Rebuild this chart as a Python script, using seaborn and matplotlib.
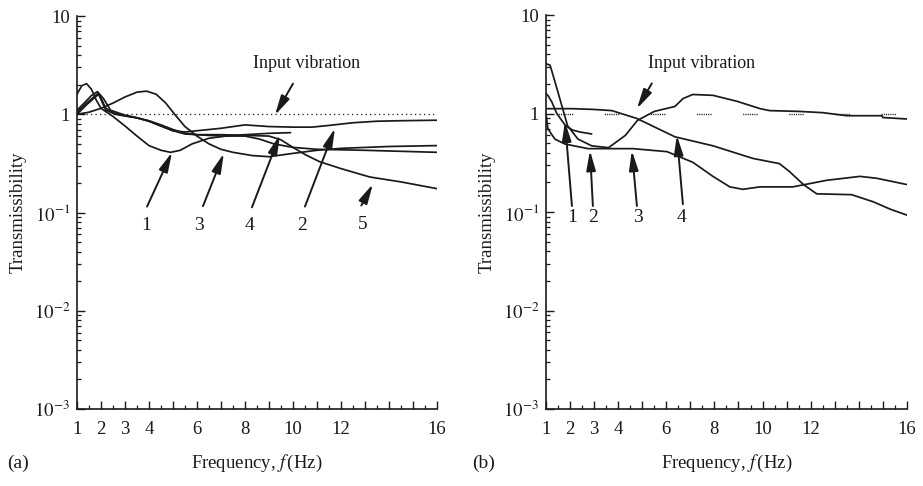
import matplotlib
matplotlib.use("Agg")
import numpy as np
import pandas as pd
import seaborn as sns
import matplotlib.pyplot as plt
from matplotlib.ticker import FixedLocator, FixedFormatter, LogLocator, NullFormatter, MultipleLocator

# ---------------- data ----------------
x_ticks_labelled = [1, 2, 3, 4, 6, 8, 10, 12, 16]
y_tick_values = [1e-3, 1e-2, 1e-1, 1, 10]
y_tick_labels = ["$10^{-3}$", "$10^{-2}$", "$10^{-1}$", "1", "10"]
input_level = 1.0
freq_span = [1, 16]

# panel (a)
a1_f = [1.0, 1.2, 1.4, 1.6, 1.8, 2.0, 2.5, 3.0, 3.5, 4.0, 4.5, 4.9, 5.3, 5.8, 6.5, 7.2, 8.0, 8.6, 9.2, 10.0, 11.0, 13.0, 16.0]
a1_T = [1.6, 1.95, 2.05, 1.8, 1.4, 1.15, 0.95, 0.76, 0.6, 0.48, 0.43, 0.41, 0.43, 0.5, 0.57, 0.6, 0.6, 0.56, 0.5, 0.46, 0.44, 0.43, 0.41]
a2_f = [1.0, 1.4, 1.9, 2.2, 2.6, 3.0, 3.5, 4.0, 4.5, 5.0, 5.5, 6.0, 7.0, 8.0, 9.0, 10.0, 10.8, 11.5, 12.5, 13.5, 14.5, 16.0]
a2_T = [1.0, 1.25, 1.6, 1.1, 1.0, 0.96, 0.92, 0.85, 0.76, 0.68, 0.66, 0.68, 0.72, 0.78, 0.75, 0.74, 0.74, 0.77, 0.82, 0.85, 0.86, 0.87]
a3_f = [1.0, 1.5, 2.0, 2.5, 3.0, 3.5, 3.9, 4.3, 4.7, 5.1, 5.5, 6.0, 6.5, 7.0, 7.5, 8.3, 9.0, 10.0, 11.0, 12.0, 14.0, 16.0]
a3_T = [1.0, 1.05, 1.15, 1.3, 1.5, 1.68, 1.72, 1.6, 1.3, 0.98, 0.75, 0.6, 0.5, 0.44, 0.41, 0.38, 0.37, 0.4, 0.43, 0.45, 0.47, 0.48]
a4_f = [1.0, 1.4, 1.9, 2.2, 2.6, 3.0, 3.5, 4.0, 4.5, 5.0, 5.5, 6.0, 7.0, 8.0, 9.0, 9.9]
a4_T = [1.05, 1.3, 1.65, 1.15, 1.02, 0.97, 0.92, 0.86, 0.78, 0.7, 0.64, 0.62, 0.6, 0.62, 0.64, 0.65]
a5_f = [1.0, 1.3, 1.6, 1.85, 2.1, 2.4, 3.0, 3.5, 4.0, 4.5, 5.0, 5.5, 6.0, 7.0, 8.0, 9.0, 9.5, 10.0, 10.5, 11.1, 12.0, 13.2, 14.5, 16.0]
a5_T = [1.1, 1.3, 1.55, 1.7, 1.45, 1.1, 0.98, 0.92, 0.85, 0.76, 0.68, 0.63, 0.62, 0.62, 0.61, 0.6, 0.55, 0.46, 0.39, 0.33, 0.28, 0.23, 0.205, 0.175]

# panel (b)
b1_f = [1.0, 1.1, 1.25, 1.45, 1.8, 2.1, 2.4, 2.9]
b1_T = [1.6, 1.5, 1.3, 1.0, 0.76, 0.68, 0.65, 0.62]
b2_f = [1.0, 1.17, 1.37, 1.66, 1.9, 2.33, 2.9, 3.6, 4.3, 4.8, 5.5, 6.36, 6.7, 7.1, 7.94, 8.94, 9.9, 10.3, 11.55, 12.5, 13.5, 14.96, 15.0, 16.0]
b2_T = [3.2, 3.1, 2.12, 1.2, 0.75, 0.55, 0.47, 0.45, 0.6, 0.85, 1.05, 1.18, 1.42, 1.56, 1.53, 1.33, 1.12, 1.07, 1.05, 1.02, 0.95, 0.95, 0.91, 0.88]
b3_f = [1.0, 1.08, 1.37, 1.79, 2.75, 4.61, 6.03, 7.1, 7.94, 8.64, 9.18, 9.89, 11.26, 12.67, 14.05, 14.75, 16.0]
b3_T = [1.0, 0.7, 0.55, 0.49, 0.44, 0.44, 0.41, 0.32, 0.23, 0.18, 0.17, 0.18, 0.18, 0.21, 0.23, 0.22, 0.19]
b4_f = [1.0, 2.08, 3.0, 3.74, 4.78, 6.36, 7.94, 9.6, 10.7, 11.1, 11.7, 12.25, 13.7, 14.6, 15.3, 16.0]
b4_T = [1.12, 1.12, 1.1, 1.07, 0.89, 0.58, 0.47, 0.35, 0.31, 0.26, 0.19, 0.153, 0.15, 0.127, 0.107, 0.093]

curves_a = {"1": (a1_f, a1_T), "2": (a2_f, a2_T), "3": (a3_f, a3_T), "4": (a4_f, a4_T), "5": (a5_f, a5_T)}
curves_b = {"1": (b1_f, b1_T), "2": (b2_f, b2_T), "3": (b3_f, b3_T), "4": (b4_f, b4_T)}

# ---------------- style ----------------
sns.set_style("ticks")
plt.rcParams["font.family"] = ["Liberation Serif", "DejaVu Serif"]
plt.rcParams["mathtext.fontset"] = "stix"
INK = "#1a1a1a"

fig = plt.figure(figsize=(9.23, 4.86), dpi=100)
axA = fig.add_axes([0.0834, 0.1584, 0.3900, 0.8086])
axB = fig.add_axes([0.5915, 0.1584, 0.3911, 0.8107])


def draw(ax, curves):
    df = pd.concat([pd.DataFrame({"f": f, "T": t, "curve": k}) for k, (f, t) in curves.items()],
                   ignore_index=True)
    sns.lineplot(data=df, x="f", y="T", hue="curve", palette={k: INK for k in curves},
                 estimator=None, sort=False, legend=False, ax=ax, linewidth=1.25)


def style_axes(ax):
    ax.set_yscale("log")
    ax.set_xlim(freq_span)
    ax.set_ylim(1e-3, 10)
    for s in ["top", "right"]:
        ax.spines[s].set_visible(False)
    for s in ["left", "bottom"]:
        ax.spines[s].set_linewidth(1.2)
        ax.spines[s].set_color(INK)
    ax.yaxis.set_major_locator(FixedLocator(y_tick_values))
    ax.yaxis.set_major_formatter(FixedFormatter(y_tick_labels))
    ax.yaxis.set_minor_locator(LogLocator(base=10, subs=np.arange(2, 10)))
    ax.yaxis.set_minor_formatter(NullFormatter())
    ax.xaxis.set_major_locator(MultipleLocator(1))
    ax.xaxis.set_major_formatter(plt.FuncFormatter(
        lambda v, p: f"{int(round(v))}" if int(round(v)) in x_ticks_labelled else ""))
    ax.xaxis.set_minor_locator(MultipleLocator(0.5))
    ax.tick_params(axis="both", which="major", direction="in", length=5.5, width=1.0,
                   colors=INK, labelsize=13.5)
    ax.tick_params(axis="both", which="minor", direction="in", length=2.8, width=0.9, colors=INK)
    ax.tick_params(axis="x", which="major", pad=8.5)
    ax.tick_params(axis="y", which="major", pad=5)
    ax.set_xlabel("Frequency, $f\\,$(Hz)", fontsize=13.5, labelpad=11, color=INK)
    ax.set_ylabel("Transmissibility", fontsize=13.5, labelpad=5, color=INK)
    ax.set_facecolor("white")


def arrow(ax, tail, tip):
    ax.annotate("", xy=tip, xytext=tail,
                arrowprops=dict(arrowstyle="-|>,head_length=0.85,head_width=0.2",
                                color=INK, lw=1.4, shrinkA=0, shrinkB=0, mutation_scale=14))


# ---- panel (a)
draw(axA, curves_a)
sns.lineplot(x=freq_span, y=[input_level, input_level], ax=axA, color=INK, lw=0.9,
             dashes=False, linestyle=(0, (1, 2.6)))
style_axes(axA)
axA.text(10.58, 3.25, "Input vibration", fontsize=13, ha="center", va="center", color=INK)
arrow(axA, (10.0, 2.05), (9.25, 0.98))
labels_a = {"1": ((3.9, 0.073), (3.92, 0.115), (4.96, 0.41)),
            "3": ((6.1, 0.073), (6.25, 0.116), (7.12, 0.40)),
            "4": ((8.2, 0.073), (8.29, 0.113), (9.46, 0.62)),
            "2": ((10.4, 0.073), (10.5, 0.115), (11.75, 0.72)),
            "5": ((12.9, 0.075), (12.85, 0.118), (13.33, 0.195))}
for k, (pos, tail, tip) in labels_a.items():
    axA.text(*pos, k, fontsize=14, ha="center", va="center", color=INK)
    arrow(axA, tail, tip)

# ---- panel (b)
draw(axB, curves_b)
sns.lineplot(x=freq_span, y=[input_level, input_level], ax=axB, color=INK, lw=1.0,
             dashes=False,
             linestyle=(24.4, tuple([0.8, 0.8] * 6 + [0.8, 22.8])))
style_axes(axB)
axB.text(7.48, 3.25, "Input vibration", fontsize=13, ha="center", va="center", color=INK)
arrow(axB, (5.4, 2.02), (4.78, 1.12))
labels_b = {"1": ((2.08, 0.089), (2.08, 0.115), (1.79, 0.83)),
            "2": ((2.95, 0.089), (2.95, 0.115), (2.83, 0.42)),
            "3": ((4.82, 0.089), (4.78, 0.115), (4.57, 0.42)),
            "4": ((6.65, 0.089), (6.69, 0.12), (6.44, 0.60))}
for k, (pos, tail, tip) in labels_b.items():
    axB.text(*pos, k, fontsize=14, ha="center", va="center", color=INK)
    arrow(axB, tail, tip)

fig.text(18 / 923, 1 - 463 / 486, "(a)", fontsize=14, ha="center", va="center", color=INK)
fig.text(484 / 923, 1 - 463 / 486, "(b)", fontsize=14, ha="center", va="center", color=INK)

fig.savefig("out.png", dpi=100, facecolor="white")
